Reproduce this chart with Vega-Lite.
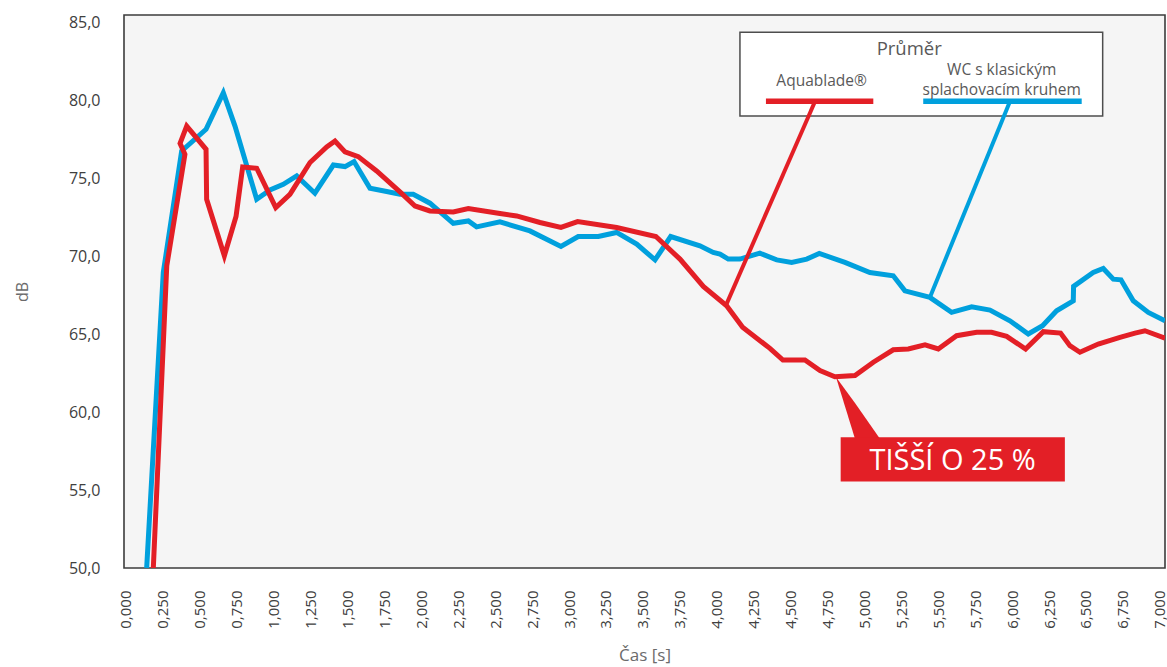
{
  "$schema": "https://vega.github.io/schema/vega-lite/v6.json",
  "width": 1041,
  "height": 553,
  "autosize": "none",
  "padding": {"left": 124, "top": 15, "right": 2, "bottom": 99},
  "background": "#ffffff",
  "config": {
    "view": {"fill": "#f5f5f5", "stroke": "#3c3c3c", "strokeWidth": 1.6},
    "font": "Open Sans"
  },
  "datasets": {
    "blue": [
      {"i": 1, "t": 0.140, "dB": 50.0},
      {"i": 2, "t": 0.2525, "dB": 68.97},
      {"i": 3, "t": 0.377, "dB": 76.77},
      {"i": 4, "t": 0.542, "dB": 78.16},
      {"i": 5, "t": 0.659, "dB": 80.51},
      {"i": 6, "t": 0.738, "dB": 78.37},
      {"i": 7, "t": 0.885, "dB": 73.67},
      {"i": 8, "t": 0.975, "dB": 74.27},
      {"i": 9, "t": 1.065, "dB": 74.63},
      {"i": 10, "t": 1.156, "dB": 75.17},
      {"i": 11, "t": 1.279, "dB": 74.06},
      {"i": 12, "t": 1.404, "dB": 75.87},
      {"i": 13, "t": 1.483, "dB": 75.77},
      {"i": 14, "t": 1.544, "dB": 76.09},
      {"i": 15, "t": 1.652, "dB": 74.38},
      {"i": 16, "t": 1.765, "dB": 74.17},
      {"i": 17, "t": 1.855, "dB": 73.99},
      {"i": 18, "t": 1.945, "dB": 73.99},
      {"i": 19, "t": 2.058, "dB": 73.42},
      {"i": 20, "t": 2.216, "dB": 72.13},
      {"i": 21, "t": 2.318, "dB": 72.28},
      {"i": 22, "t": 2.374, "dB": 71.90},
      {"i": 23, "t": 2.532, "dB": 72.22},
      {"i": 24, "t": 2.735, "dB": 71.64},
      {"i": 25, "t": 2.945, "dB": 70.64},
      {"i": 26, "t": 3.062, "dB": 71.28},
      {"i": 27, "t": 3.198, "dB": 71.28},
      {"i": 28, "t": 3.322, "dB": 71.54},
      {"i": 29, "t": 3.458, "dB": 70.79},
      {"i": 30, "t": 3.582, "dB": 69.78},
      {"i": 31, "t": 3.688, "dB": 71.28},
      {"i": 32, "t": 3.886, "dB": 70.68},
      {"i": 33, "t": 3.976, "dB": 70.26},
      {"i": 34, "t": 4.022, "dB": 70.15},
      {"i": 35, "t": 4.078, "dB": 69.83},
      {"i": 36, "t": 4.157, "dB": 69.83},
      {"i": 37, "t": 4.292, "dB": 70.21},
      {"i": 38, "t": 4.406, "dB": 69.78},
      {"i": 39, "t": 4.507, "dB": 69.62},
      {"i": 40, "t": 4.609, "dB": 69.83},
      {"i": 41, "t": 4.694, "dB": 70.19},
      {"i": 42, "t": 4.868, "dB": 69.62},
      {"i": 43, "t": 5.037, "dB": 68.97},
      {"i": 44, "t": 5.195, "dB": 68.76},
      {"i": 45, "t": 5.274, "dB": 67.79},
      {"i": 46, "t": 5.443, "dB": 67.37},
      {"i": 47, "t": 5.590, "dB": 66.41},
      {"i": 48, "t": 5.726, "dB": 66.77},
      {"i": 49, "t": 5.850, "dB": 66.56},
      {"i": 50, "t": 5.985, "dB": 65.87},
      {"i": 51, "t": 6.109, "dB": 65.02},
      {"i": 52, "t": 6.206, "dB": 65.55},
      {"i": 53, "t": 6.301, "dB": 66.51},
      {"i": 54, "t": 6.414, "dB": 67.15},
      {"i": 55, "t": 6.416, "dB": 68.08},
      {"i": 56, "t": 6.549, "dB": 68.97},
      {"i": 57, "t": 6.617, "dB": 69.23},
      {"i": 58, "t": 6.685, "dB": 68.54},
      {"i": 59, "t": 6.737, "dB": 68.50},
      {"i": 60, "t": 6.820, "dB": 67.15},
      {"i": 61, "t": 6.922, "dB": 66.41},
      {"i": 62, "t": 7.035, "dB": 65.87}
    ],
    "red": [
      {"i": 1, "t": 0.185, "dB": 50.0},
      {"i": 2, "t": 0.276, "dB": 69.40},
      {"i": 3, "t": 0.399, "dB": 76.56},
      {"i": 4, "t": 0.366, "dB": 77.26},
      {"i": 5, "t": 0.411, "dB": 78.37},
      {"i": 6, "t": 0.542, "dB": 76.88},
      {"i": 7, "t": 0.546, "dB": 73.67},
      {"i": 8, "t": 0.666, "dB": 70.04},
      {"i": 9, "t": 0.745, "dB": 72.56},
      {"i": 10, "t": 0.790, "dB": 75.74},
      {"i": 11, "t": 0.885, "dB": 75.66},
      {"i": 12, "t": 1.014, "dB": 73.14},
      {"i": 13, "t": 1.110, "dB": 73.99},
      {"i": 14, "t": 1.246, "dB": 76.03},
      {"i": 15, "t": 1.359, "dB": 77.03},
      {"i": 16, "t": 1.415, "dB": 77.41},
      {"i": 17, "t": 1.483, "dB": 76.71},
      {"i": 18, "t": 1.573, "dB": 76.41},
      {"i": 19, "t": 1.697, "dB": 75.49},
      {"i": 20, "t": 1.855, "dB": 74.14},
      {"i": 21, "t": 1.957, "dB": 73.24},
      {"i": 22, "t": 2.058, "dB": 72.92},
      {"i": 23, "t": 2.216, "dB": 72.86},
      {"i": 24, "t": 2.318, "dB": 73.08},
      {"i": 25, "t": 2.532, "dB": 72.76},
      {"i": 26, "t": 2.645, "dB": 72.60},
      {"i": 27, "t": 2.803, "dB": 72.18},
      {"i": 28, "t": 2.945, "dB": 71.86},
      {"i": 29, "t": 3.058, "dB": 72.24},
      {"i": 30, "t": 3.322, "dB": 71.86},
      {"i": 31, "t": 3.588, "dB": 71.28},
      {"i": 32, "t": 3.751, "dB": 69.83},
      {"i": 33, "t": 3.909, "dB": 68.08},
      {"i": 34, "t": 4.067, "dB": 66.83},
      {"i": 35, "t": 4.175, "dB": 65.45},
      {"i": 36, "t": 4.360, "dB": 64.10},
      {"i": 37, "t": 4.448, "dB": 63.35},
      {"i": 38, "t": 4.597, "dB": 63.35},
      {"i": 39, "t": 4.699, "dB": 62.67},
      {"i": 40, "t": 4.800, "dB": 62.28},
      {"i": 41, "t": 4.936, "dB": 62.35},
      {"i": 42, "t": 5.060, "dB": 63.21},
      {"i": 43, "t": 5.195, "dB": 64.01},
      {"i": 44, "t": 5.297, "dB": 64.06},
      {"i": 45, "t": 5.410, "dB": 64.33},
      {"i": 46, "t": 5.500, "dB": 64.06},
      {"i": 47, "t": 5.624, "dB": 64.91},
      {"i": 48, "t": 5.760, "dB": 65.13},
      {"i": 49, "t": 5.861, "dB": 65.13},
      {"i": 50, "t": 5.963, "dB": 64.87},
      {"i": 51, "t": 6.091, "dB": 64.06},
      {"i": 52, "t": 6.211, "dB": 65.17},
      {"i": 53, "t": 6.328, "dB": 65.08},
      {"i": 54, "t": 6.391, "dB": 64.27},
      {"i": 55, "t": 6.459, "dB": 63.85},
      {"i": 56, "t": 6.583, "dB": 64.38},
      {"i": 57, "t": 6.730, "dB": 64.81},
      {"i": 58, "t": 6.832, "dB": 65.08},
      {"i": 59, "t": 6.899, "dB": 65.23},
      {"i": 60, "t": 7.035, "dB": 64.76}
    ],
    "legendBox": [{"t": 4.157, "t2": 6.613, "dB": 84.40, "dB2": 79.01}],
    "connectors": [
      {"series": "Aquablade", "t": 4.665, "dB": 79.95, "t2": 4.060, "dB2": 66.81},
      {"series": "WC", "t": 5.985, "dB": 79.95, "t2": 5.443, "dB2": 67.37}
    ],
    "legendLines": [
      {"series": "Aquablade", "t": 4.333, "t2": 5.060, "dB": 79.97},
      {"series": "WC", "t": 5.398, "t2": 6.471, "dB": 79.97}
    ],
    "legendTitle": [{"t": 5.303, "dB": 83.29, "label": "Průměr"}],
    "legendLabels": [
      {"t": 4.710, "dB": 81.26, "label": "Aquablade®"},
      {"t": 5.929, "dB": 82.00, "label": "WC s klasickým"},
      {"t": 5.929, "dB": 80.70, "label": "splachovacím kruhem"}
    ],
    "pointer": [
      {"t": 4.807, "dB": 62.26, "dB2": 62.26},
      {"t": 4.936, "dB": 60.60, "dB2": 58.30},
      {"t": 5.105, "dB": 58.30, "dB2": 58.30}
    ],
    "calloutBox": [{"t": 4.839, "t2": 6.357, "dB": 58.40, "dB2": 55.55}],
    "calloutText": [{"t": 5.597, "dB": 56.90, "label": "TIŠŠÍ O 25 %"}]
  },
  "encoding": {
    "x": {
      "field": "t",
      "type": "quantitative",
      "scale": {"domain": [-0.0135, 7.035], "nice": false, "zero": false},
      "axis": {
        "values": [0, 0.25, 0.5, 0.75, 1, 1.25, 1.5, 1.75, 2, 2.25, 2.5, 2.75, 3, 3.25, 3.5, 3.75, 4, 4.25, 4.5, 4.75, 5, 5.25, 5.5, 5.75, 6, 6.25, 6.5, 6.75, 7],
        "labelExpr": "replace(format(datum.value, '.3f'), '.', ',')",
        "labelAngle": -90,
        "labelAlign": "right",
        "labelBaseline": "middle",
        "labelPadding": 22,
        "labelFontSize": 15,
        "labelColor": "#404040",
        "labelFont": "Open Sans",
        "labelOverlap": false,
        "labelFlush": false,
        "ticks": false,
        "domain": false,
        "grid": false,
        "title": "Čas [s]",
        "titleFont": "Open Sans",
        "titleFontSize": 17,
        "titleFontWeight": "normal",
        "titleColor": "#6b6b6b",
        "titlePadding": 19
      }
    },
    "y": {
      "field": "dB",
      "type": "quantitative",
      "scale": {"domain": [50, 85.5], "nice": false, "zero": false},
      "axis": {
        "values": [50, 55, 60, 65, 70, 75, 80, 85],
        "labelExpr": "replace(format(datum.value, '.1f'), '.', ',')",
        "labelPadding": 24,
        "labelFontSize": 16,
        "labelColor": "#404040",
        "labelFont": "Open Sans",
        "labelOverlap": false,
        "labelFlush": false,
        "ticks": false,
        "domain": false,
        "grid": false,
        "title": "dB",
        "titleFont": "Open Sans",
        "titleFontSize": 16,
        "titleFontWeight": "normal",
        "titleColor": "#6b6b6b",
        "titlePadding": 38
      }
    }
  },
  "layer": [
    {
      "data": {"name": "blue"},
      "mark": {"type": "line", "color": "#00a0dd", "strokeWidth": 5, "clip": true},
      "encoding": {"order": {"field": "i", "type": "quantitative"}}
    },
    {
      "data": {"name": "red"},
      "mark": {"type": "line", "color": "#e31f26", "strokeWidth": 5, "clip": true},
      "encoding": {"order": {"field": "i", "type": "quantitative"}}
    },
    {
      "data": {"name": "legendBox"},
      "mark": {"type": "rect", "fill": "#ffffff", "stroke": "#4d4d4d", "strokeWidth": 1.5},
      "encoding": {
        "x2": {"field": "t2"},
        "y2": {"field": "dB2"}
      }
    },
    {
      "data": {"name": "connectors"},
      "mark": {"type": "rule", "strokeWidth": 4},
      "encoding": {
        "x2": {"field": "t2"},
        "y2": {"field": "dB2"},
        "color": {"field": "series", "type": "nominal", "scale": {"domain": ["Aquablade", "WC"], "range": ["#e31f26", "#00a0dd"]}, "legend": null}
      }
    },
    {
      "data": {"name": "legendLines"},
      "mark": {"type": "rule", "strokeWidth": 5.5},
      "encoding": {
        "x2": {"field": "t2"},
        "color": {"field": "series", "type": "nominal", "scale": {"domain": ["Aquablade", "WC"], "range": ["#e31f26", "#00a0dd"]}, "legend": null}
      }
    },
    {
      "data": {"name": "legendTitle"},
      "mark": {"type": "text", "font": "Open Sans", "fontSize": 18.5, "color": "#595959", "align": "center", "baseline": "middle"},
      "encoding": {"text": {"field": "label"}}
    },
    {
      "data": {"name": "legendLabels"},
      "mark": {"type": "text", "font": "Open Sans", "fontSize": 15.5, "color": "#595959", "align": "center", "baseline": "middle"},
      "encoding": {"text": {"field": "label"}}
    },
    {
      "data": {"name": "pointer"},
      "mark": {"type": "area", "color": "#e31f26", "opacity": 1},
      "encoding": {"y2": {"field": "dB2"}}
    },
    {
      "data": {"name": "calloutBox"},
      "mark": {"type": "rect", "fill": "#e31f26"},
      "encoding": {
        "x2": {"field": "t2"},
        "y2": {"field": "dB2"}
      }
    },
    {
      "data": {"name": "calloutText"},
      "mark": {"type": "text", "font": "Open Sans", "fontSize": 29, "color": "#ffffff", "align": "center", "baseline": "middle"},
      "encoding": {"text": {"field": "label"}}
    }
  ]
}
